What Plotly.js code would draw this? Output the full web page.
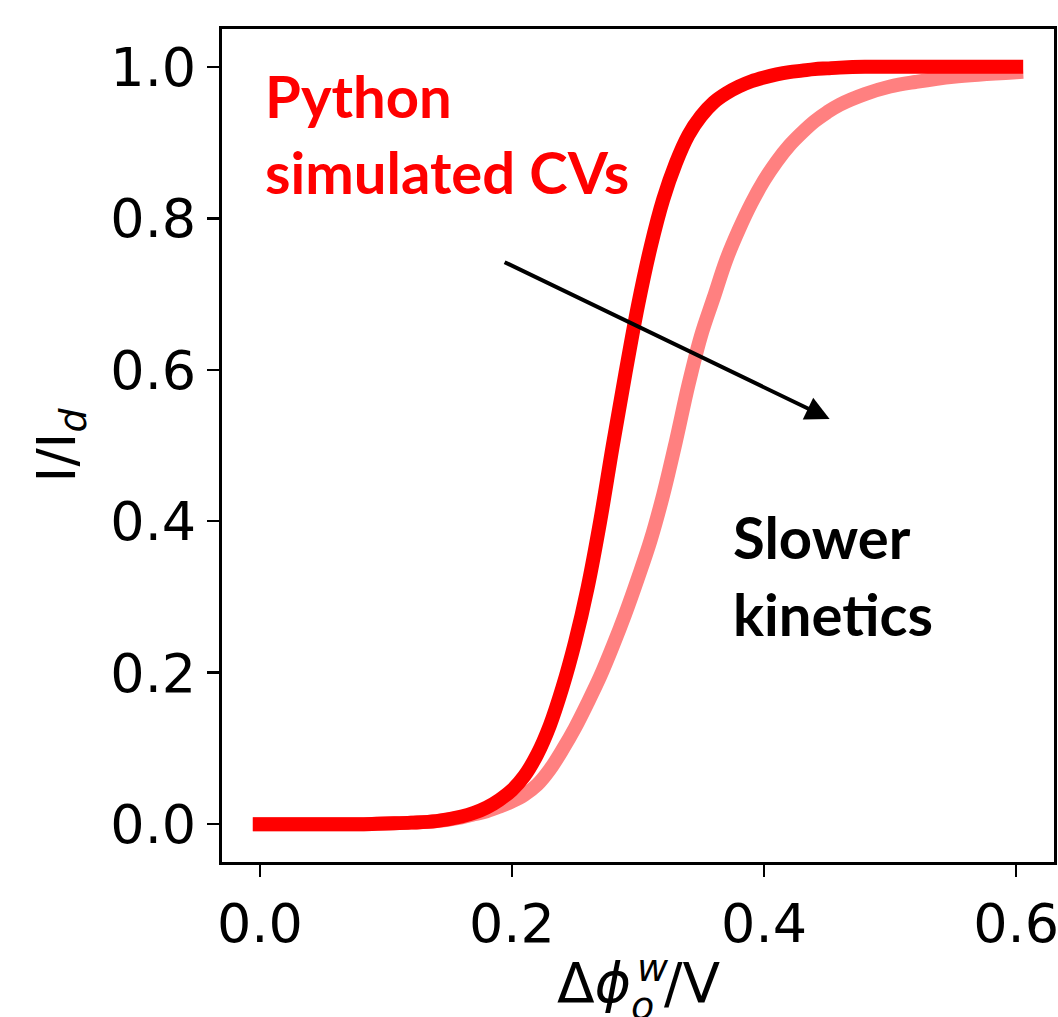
<!DOCTYPE html>
<html>
<head>
<meta charset="utf-8">
<script src="https://cdn.plot.ly/plotly-3.0.1.min.js"></script>
<style>
  html, body { margin: 0; padding: 0; background: #fff; }
  #chart { width: 1058px; height: 1017px; }
  #chart path.js-line { stroke-linecap: square; stroke-linejoin: round; }
</style>
</head>
<body>
<div id="chart"></div>
<script>
// Potential axis (V)
const potential = [0.00,0.02,0.04,0.06,0.08,0.10,0.12,0.14,0.16,0.17,0.18,0.19,0.20,0.21,0.22,0.23,0.24,0.25,0.26,0.27,0.28,0.29,0.30,0.31,0.32,0.33,0.34,0.35,0.36,0.37,0.38,0.39,0.40,0.41,0.42,0.43,0.44,0.45,0.46,0.48,0.50,0.52,0.55,0.60];
// Normalised current, fast kinetics (dark red)
const currentFast = [0.000,0.000,0.000,0.000,0.000,0.001,0.002,0.004,0.010,0.015,0.022,0.032,0.045,0.064,0.092,0.130,0.180,0.240,0.312,0.400,0.500,0.595,0.685,0.762,0.825,0.873,0.910,0.935,0.953,0.965,0.974,0.981,0.986,0.990,0.993,0.995,0.997,0.998,0.999,1.000,1.000,1.000,1.000,1.000];
// Normalised current, slower kinetics (light red)
const currentSlow = [0.000,0.000,0.000,0.000,0.000,0.001,0.002,0.004,0.009,0.013,0.017,0.023,0.030,0.039,0.052,0.072,0.098,0.127,0.160,0.195,0.235,0.278,0.325,0.375,0.435,0.505,0.580,0.645,0.695,0.745,0.785,0.820,0.850,0.875,0.896,0.913,0.928,0.940,0.950,0.964,0.974,0.980,0.987,0.993];
// Tick labels
const xTicks = [0.0, 0.2, 0.4, 0.6];
const xTickText = ["0.0", "0.2", "0.4", "0.6"];
const yTicks = [0.0, 0.2, 0.4, 0.6, 0.8, 1.0];
const yTickText = ["0.0", "0.2", "0.4", "0.6", "0.8", "1.0"];

const traces = [
  { x: potential, y: currentSlow, type: "scatter", mode: "lines",
    line: { color: "#ff8080", width: 14, shape: "spline", smoothing: 1.0 }, hoverinfo: "skip" },
  { x: potential, y: currentFast, type: "scatter", mode: "lines",
    line: { color: "#ff0000", width: 14, shape: "spline", smoothing: 1.0 }, hoverinfo: "skip" }
];

const tickFont = { family: "DejaVu Sans", size: 54, color: "#000" };
const noteFont = { family: "Lato", size: 58, color: "#ff0000" };
const noteFontBlack = { family: "Lato", size: 58, color: "#000" };
const mathFont = { family: "DejaVu Sans", size: 55, color: "#000" };
const mathSmall = { family: "DejaVu Sans", size: 38, color: "#000" };

// pixel -> paper helpers for text placement
const L = 222, W = 832, T = 29, H = 833;
const px = v => (v - L) / W;
const py = v => 1 - (v - T) / H;

const layout = {
  width: 1058, height: 1017,
  margin: { l: 222, r: 4, t: 29, b: 155 },
  paper_bgcolor: "#fff", plot_bgcolor: "#fff",
  showlegend: false,
  xaxis: {
    range: [-0.03, 0.63], tickvals: xTicks, ticktext: xTickText,
    ticks: "outside", ticklen: 12, tickwidth: 2.5, tickcolor: "#000",
    showline: true, mirror: true, linewidth: 3, linecolor: "#000",
    showgrid: false, zeroline: false, tickfont: tickFont,
    ticklabeloverflow: "allow"
  },
  yaxis: {
    range: [-0.05, 1.05], tickvals: yTicks, ticktext: yTickText,
    ticks: "outside", ticklen: 12, tickwidth: 2.5, tickcolor: "#000",
    showline: true, mirror: true, linewidth: 3, linecolor: "#000",
    showgrid: false, zeroline: false, tickfont: tickFont,
    title: { text: "I/I<sub><i>d</i></sub>", font: { family: "DejaVu Sans", size: 54, color: "#000" }, standoff: 18 }
  },
  annotations: [
    { xref: "paper", yref: "paper", x: px(263), y: py(95), xanchor: "left", yanchor: "middle",
      text: "<b>Python</b>", showarrow: false, font: noteFont },
    { xref: "paper", yref: "paper", x: px(263), y: py(171), xanchor: "left", yanchor: "middle",
      text: "<b>simulated CVs</b>", showarrow: false, font: noteFont },
    { xref: "paper", yref: "paper", x: px(731), y: py(536), xanchor: "left", yanchor: "middle",
      text: "<b>Slower</b>", showarrow: false, font: noteFontBlack },
    { xref: "paper", yref: "paper", x: px(731), y: py(613), xanchor: "left", yanchor: "middle",
      text: "<b>kinetics</b>", showarrow: false, font: noteFontBlack },
    // x-axis title Δϕ_o^w / V built from pieces so that sub/superscript stack
    { xref: "paper", yref: "paper", x: px(633), y: py(983), xanchor: "right", yanchor: "middle",
      text: "Δ<i>ϕ</i>", showarrow: false, font: mathFont },
    { xref: "paper", yref: "paper", x: px(635), y: py(968), xanchor: "left", yanchor: "middle",
      text: "<i>w</i>", showarrow: false, font: mathSmall },
    { xref: "paper", yref: "paper", x: px(629), y: py(1006), xanchor: "left", yanchor: "middle",
      text: "<i>o</i>", showarrow: false, font: mathSmall },
    { xref: "paper", yref: "paper", x: px(662), y: py(983), xanchor: "left", yanchor: "middle",
      text: "/V", showarrow: false, font: mathFont },
    { x: 0.452, y: 0.535, xref: "x", yref: "y", ax: 0.193, ay: 0.743, axref: "x", ayref: "y",
      text: "", showarrow: true, arrowhead: 2, arrowsize: 1.2, arrowwidth: 4, arrowcolor: "#000", standoff: 0 }
  ]
};

Plotly.newPlot("chart", traces, layout, { staticPlot: true, displayModeBar: false });
</script>
</body>
</html>
